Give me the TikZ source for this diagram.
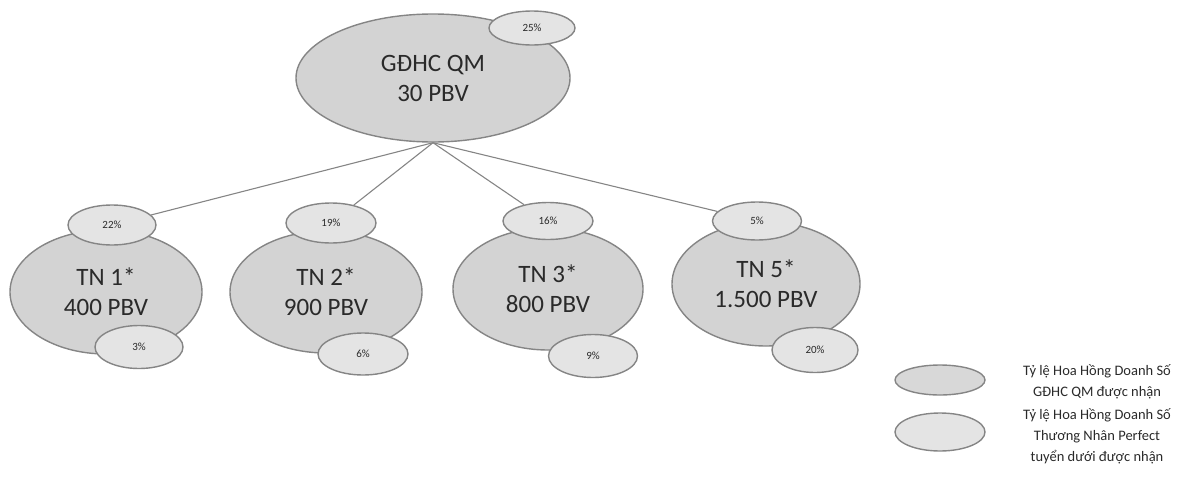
\documentclass[tikz,border=0pt]{standalone}
\usepackage{fontspec}
\setmainfont{Carlito}
\usetikzlibrary{shapes.geometric}
\definecolor{bigfill}{HTML}{D3D3D3}
\definecolor{smallfill}{HTML}{E4E4E4}
\definecolor{edge}{HTML}{858585}
\definecolor{ink}{HTML}{2A2A2A}
\tikzset{
  bigell/.style={ellipse, draw=edge, line width=1.4pt, fill=bigfill, inner sep=0pt,
    text=ink, align=center, font=\fontsize{25}{30}\selectfont},
  smallell/.style={ellipse, draw=edge, line width=1.4pt, fill=smallfill, inner sep=0pt,
    text=ink, font=\fontsize{11}{13}\selectfont},
  conn/.style={draw=edge, line width=1.1pt},
  legtext/.style={text=ink, align=center, font=\fontsize{14.5}{21}\selectfont}
}
\begin{document}
\begin{tikzpicture}[x=1pt,y=-1pt]
\useasboundingbox (0,0) rectangle (1201,479);
% big ellipses
\node[bigell, minimum width=274pt, minimum height=128pt] (top) at (433,78) {GĐHC QM\\30 PBV};
\node[bigell, minimum width=192pt, minimum height=124pt] (tn1) at (106,292) {TN 1*\\400 PBV};
\node[bigell, minimum width=192pt, minimum height=122pt] (tn2) at (326,292) {TN 2*\\900 PBV};
\node[bigell, minimum width=190pt, minimum height=122pt] (tn3) at (548,289) {TN 3*\\800 PBV};
\node[bigell, minimum width=188pt, minimum height=124pt] (tn5) at (766,284) {TN 5*\\1.500 PBV};
% small ellipses
\node[smallell, minimum width=86pt, minimum height=34pt] (p25) at (532,28) {25\%};
\node[smallell, minimum width=88pt, minimum height=40pt] (p22) at (112,225) {22\%};
\node[smallell, minimum width=90pt, minimum height=40pt] (p19) at (331,223) {19\%};
\node[smallell, minimum width=90pt, minimum height=37pt] (p16) at (548,221) {16\%};
\node[smallell, minimum width=89pt, minimum height=38pt] (p5) at (757,221) {5\%};
\node[smallell, minimum width=88pt, minimum height=43pt] (p3) at (139,347) {3\%};
\node[smallell, minimum width=90pt, minimum height=42pt] (p6) at (363,354) {6\%};
\node[smallell, minimum width=89pt, minimum height=43pt] (p9) at (593,356) {9\%};
\node[smallell, minimum width=86pt, minimum height=45pt] (p20) at (815,350) {20\%};
% connectors
\coordinate (hub) at (top.south);
\draw[conn] (hub) -- (p22);
\draw[conn] (hub) -- (p19);
\draw[conn] (hub) -- (p16);
\draw[conn] (hub) -- (p5);
% legend
\node[smallell, fill=bigfill!70!smallfill, minimum width=90pt, minimum height=30pt] (leg1) at (940,380) {};
\node[smallell, minimum width=90pt, minimum height=38pt] (leg2) at (940,432) {};
\node[legtext] (legt1) at (1097,382) {Tỷ lệ Hoa Hồng Doanh Số\\GĐHC QM được nhận};
\node[legtext] (legt2) at (1097,436) {Tỷ lệ Hoa Hồng Doanh Số\\Thương Nhân Perfect\\tuyển dưới được nhận};
\end{tikzpicture}
\end{document}
